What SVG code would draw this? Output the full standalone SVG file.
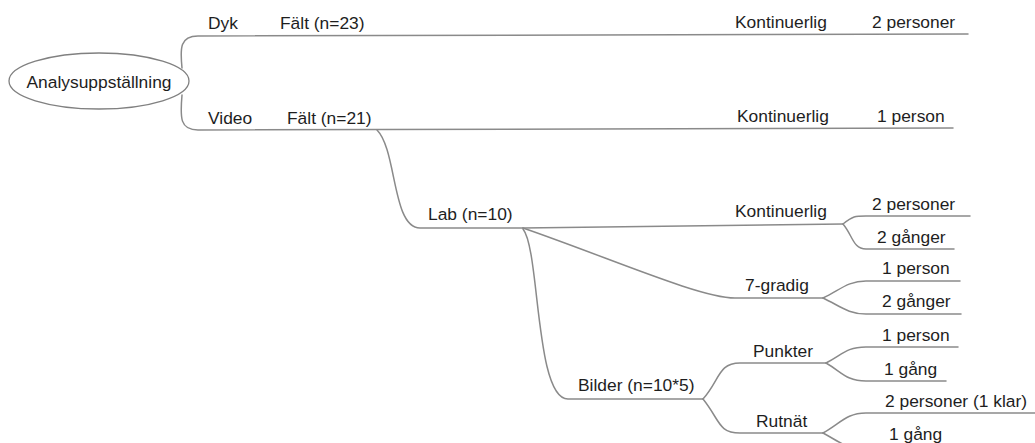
<svg xmlns="http://www.w3.org/2000/svg" width="1035" height="443" viewBox="0 0 1035 443">
  <style>
    .edge { fill: none; stroke: #8a8a8a; stroke-width: 1.5; stroke-linecap: round; }
    .lbl { font-family: "Liberation Sans", Arial, sans-serif; font-size: 17.4px; fill: #1e1e1e; }
    .root { fill: #ffffff; stroke: #808080; stroke-width: 1.3; }
  </style>

  <!-- connectors -->
  <g id="connectors">
    <!-- root to main branches -->
    <path class="edge" d="M182,68 C180,48 180,36 198,36 L968,34"/>
    <path class="edge" d="M182,95 C180,118 180,130 198,130 L953,128"/>
    <!-- Video / Fält to Lab -->
    <path class="edge" d="M377,130 C397,150 392,228 420,228 L523,228"/>
    <!-- Lab to children -->
    <path class="edge" d="M523,228 L843,224"/>
    <path class="edge" d="M523,228 C610,258 700,298 735,298 L823,298"/>
    <path class="edge" d="M523,229 C540,250 535,399 568,399 L703,399"/>
    <!-- Kontinuerlig leaves -->
    <path class="edge" d="M843,224 C853,216 855,216 866,216 L970,216"/>
    <path class="edge" d="M843,224 C853,236 853,249 866,249 L954,249"/>
    <!-- 7-gradig leaves -->
    <path class="edge" d="M823,298 C840,290 848,281 866,281 L960,281"/>
    <path class="edge" d="M823,298 C840,306 848,314 866,314 L961,314"/>
    <!-- Bilder to Punkter / Rutnät -->
    <path class="edge" d="M703,399 C720,380 718,363 740,363 L826,363"/>
    <path class="edge" d="M703,399 C720,420 718,433 740,433 L823,433"/>
    <!-- Punkter leaves -->
    <path class="edge" d="M826,363 C842,355 846,347 866,347 L958,347"/>
    <path class="edge" d="M826,363 C842,372 846,381 866,381 L946,381"/>
    <!-- Rutnät leaves -->
    <path class="edge" d="M823,433 C840,424 846,413 866,413 L1035,413"/>
    <path class="edge" d="M823,433 C840,442 846,449 866,449 L950,449"/>
  </g>

  <g id="node-root">
    <ellipse class="root" cx="99" cy="81" rx="90" ry="28"/>
    <text class="lbl" x="99" y="88" text-anchor="middle">Analysuppställning</text>
  </g>

  <g id="node-dyk"><text class="lbl" x="208" y="29">Dyk</text></g>
  <g id="node-dyk-falt"><text class="lbl" x="280" y="29">Fält (n=23)</text></g>
  <g id="node-dyk-kont"><text class="lbl" x="735" y="28">Kontinuerlig</text></g>
  <g id="node-dyk-pers"><text class="lbl" x="872" y="28">2 personer</text></g>

  <g id="node-video"><text class="lbl" x="208" y="124">Video</text></g>
  <g id="node-video-falt"><text class="lbl" x="287" y="124">Fält (n=21)</text></g>
  <g id="node-video-kont"><text class="lbl" x="737" y="122">Kontinuerlig</text></g>
  <g id="node-video-pers"><text class="lbl" x="877" y="122">1 person</text></g>

  <g id="node-lab"><text class="lbl" x="428" y="220">Lab (n=10)</text></g>

  <g id="node-lab-kont"><text class="lbl" x="735" y="217">Kontinuerlig</text></g>
  <g id="node-lab-kont-pers"><text class="lbl" x="872" y="210">2 personer</text></g>
  <g id="node-lab-kont-gang"><text class="lbl" x="877" y="243">2 gånger</text></g>

  <g id="node-7gradig"><text class="lbl" x="745" y="291">7-gradig</text></g>
  <g id="node-7gradig-pers"><text class="lbl" x="882" y="274">1 person</text></g>
  <g id="node-7gradig-gang"><text class="lbl" x="882" y="307">2 gånger</text></g>

  <g id="node-bilder"><text class="lbl" x="578" y="391">Bilder (n=10*5)</text></g>

  <g id="node-punkter"><text class="lbl" x="753" y="357">Punkter</text></g>
  <g id="node-punkter-pers"><text class="lbl" x="882" y="341">1 person</text></g>
  <g id="node-punkter-gang"><text class="lbl" x="884" y="375">1 gång</text></g>

  <g id="node-rutnat"><text class="lbl" x="756" y="427">Rutnät</text></g>
  <g id="node-rutnat-pers"><text class="lbl" x="885" y="407">2 personer (1 klar)</text></g>
  <g id="node-rutnat-gang"><text class="lbl" x="889" y="440">1 gång</text></g>
</svg>
